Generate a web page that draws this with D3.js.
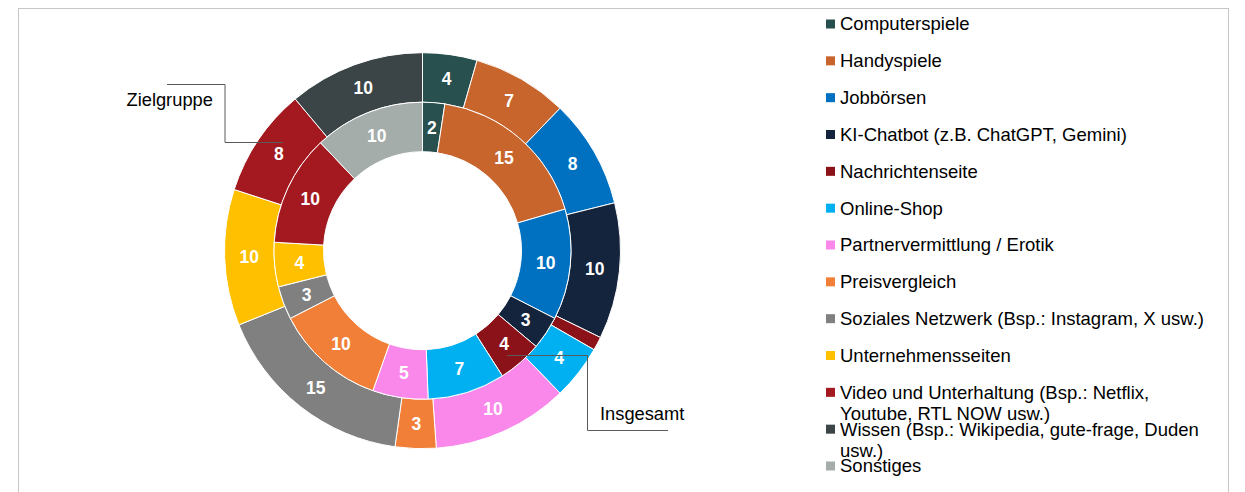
<!DOCTYPE html>
<html>
<head>
<meta charset="utf-8">
<script src="https://cdn.jsdelivr.net/npm/d3@7"></script>
<style>
  html, body { margin: 0; padding: 0; background: #fff; }
  svg { display: block; font-family: "Liberation Sans", Arial, sans-serif; }
</style>
</head>
<body>
<svg id="chart" width="1245" height="492"></svg>
<script>
const categories = [
  "Computerspiele",
  "Handyspiele",
  "Jobbörsen",
  "KI-Chatbot (z.B. ChatGPT, Gemini)",
  "Nachrichtenseite",
  "Online-Shop",
  "Partnervermittlung / Erotik",
  "Preisvergleich",
  "Soziales Netzwerk (Bsp.: Instagram, X usw.)",
  "Unternehmensseiten",
  "Video und Unterhaltung (Bsp.: Netflix, Youtube, RTL NOW usw.)",
  "Wissen (Bsp.: Wikipedia, gute-frage, Duden usw.)",
  "Sonstiges"
];
const legendLines = [
  ["Computerspiele"],
  ["Handyspiele"],
  ["Jobbörsen"],
  ["KI-Chatbot (z.B. ChatGPT, Gemini)"],
  ["Nachrichtenseite"],
  ["Online-Shop"],
  ["Partnervermittlung / Erotik"],
  ["Preisvergleich"],
  ["Soziales Netzwerk (Bsp.: Instagram, X usw.)"],
  ["Unternehmensseiten"],
  ["Video und Unterhaltung (Bsp.: Netflix,", "Youtube, RTL NOW usw.)"],
  ["Wissen (Bsp.: Wikipedia, gute-frage, Duden", "usw.)"],
  ["Sonstiges"]
];
const colors = [
  "#27504e", "#c8652c", "#0070c0", "#14243d", "#8b1219", "#00b0f0",
  "#fa88ea", "#f27f38", "#808080", "#ffc000", "#a3191f", "#3b4446", "#a5adab"
];
// Outer ring: Zielgruppe
const zielgruppe = [4, 7, 8, 10, 1, 4, 10, 3, 15, 10, 8, 10, 0];
// Inner ring: Insgesamt
const insgesamt = [2, 15, 10, 3, 4, 7, 5, 10, 3, 4, 10, 0, 10];
const ringNames = ["Zielgruppe", "Insgesamt"];

const svg = d3.select("#chart");

// dotted frame
svg.append("rect")
  .attr("x", 18.5).attr("y", 8.5)
  .attr("width", 1210).attr("height", 500)
  .attr("fill", "none")
  .attr("stroke", "#8c8c8c")
  .attr("stroke-width", 1)
  .attr("stroke-dasharray", "1,1");

const cx = 422.5, cy = 250.7;
const rHole = 99, rMid = 148.5, rOuter = 198;

const color = d3.scaleOrdinal().domain(categories).range(colors);
const pie = d3.pie().sort(null).value(d => d.v);

const g = svg.append("g").attr("transform", `translate(${cx},${cy})`);

function drawRing(values, r0, r1) {
  const data = categories.map((c, i) => ({ c, v: values[i] }));
  const arcs = pie(data);
  const arc = d3.arc().innerRadius(r0).outerRadius(r1);
  const rg = g.append("g");
  rg.selectAll("path").data(arcs).enter().append("path")
    .attr("d", arc)
    .attr("fill", d => color(d.data.c))
    .attr("stroke", "#ffffff")
    .attr("stroke-width", d => d.data.v > 0 ? 1 : 0);
  rg.selectAll("text").data(arcs.filter(d => d.data.v >= 2)).enter().append("text")
    .attr("transform", d => `translate(${arc.centroid(d)})`)
    .attr("text-anchor", "middle")
    .attr("dy", "0.36em")
    .attr("fill", "#ffffff")
    .attr("font-weight", "bold")
    .attr("font-size", 17.5)
    .text(d => d.data.v);
}
drawRing(zielgruppe, rMid, rOuter);
drawRing(insgesamt, rHole, rMid);

// callouts
const line = d3.line();
svg.append("path")
  .attr("d", line([[167, 84.5], [225, 84.5], [225, 142.5], [283, 142.5]]))
  .attr("fill", "none").attr("stroke", "#5a5a5a").attr("stroke-width", 1);
svg.append("text")
  .attr("x", 126.5).attr("y", 99.5).attr("dy", "0.35em")
  .attr("font-size", 18.3).attr("fill", "#000")
  .text(ringNames[0]);

svg.append("path")
  .attr("d", line([[507, 355.5], [587.5, 355.5], [587.5, 430.5], [668, 430.5]]))
  .attr("fill", "none").attr("stroke", "#5a5a5a").attr("stroke-width", 1);
svg.append("text")
  .attr("x", 600).attr("y", 414).attr("dy", "0.35em")
  .attr("font-size", 18.3).attr("fill", "#000")
  .text(ringNames[1]);

// legend
const ly = d3.scaleLinear().domain([0, categories.length - 1]).range([24, 466]);
const lg = svg.append("g");
categories.forEach((c, i) => {
  const y = ly(i);
  lg.append("rect")
    .attr("x", 826).attr("y", y - 4.5)
    .attr("width", 9).attr("height", 9)
    .attr("fill", color(c));
  const t = lg.append("text")
    .attr("x", 840).attr("y", y)
    .attr("font-size", 18.5).attr("fill", "#000");
  legendLines[i].forEach((ln, k) => {
    t.append("tspan").attr("x", 840).attr("dy", k === 0 ? "0.35em" : 21).text(ln);
  });
});
</script>
</body>
</html>
